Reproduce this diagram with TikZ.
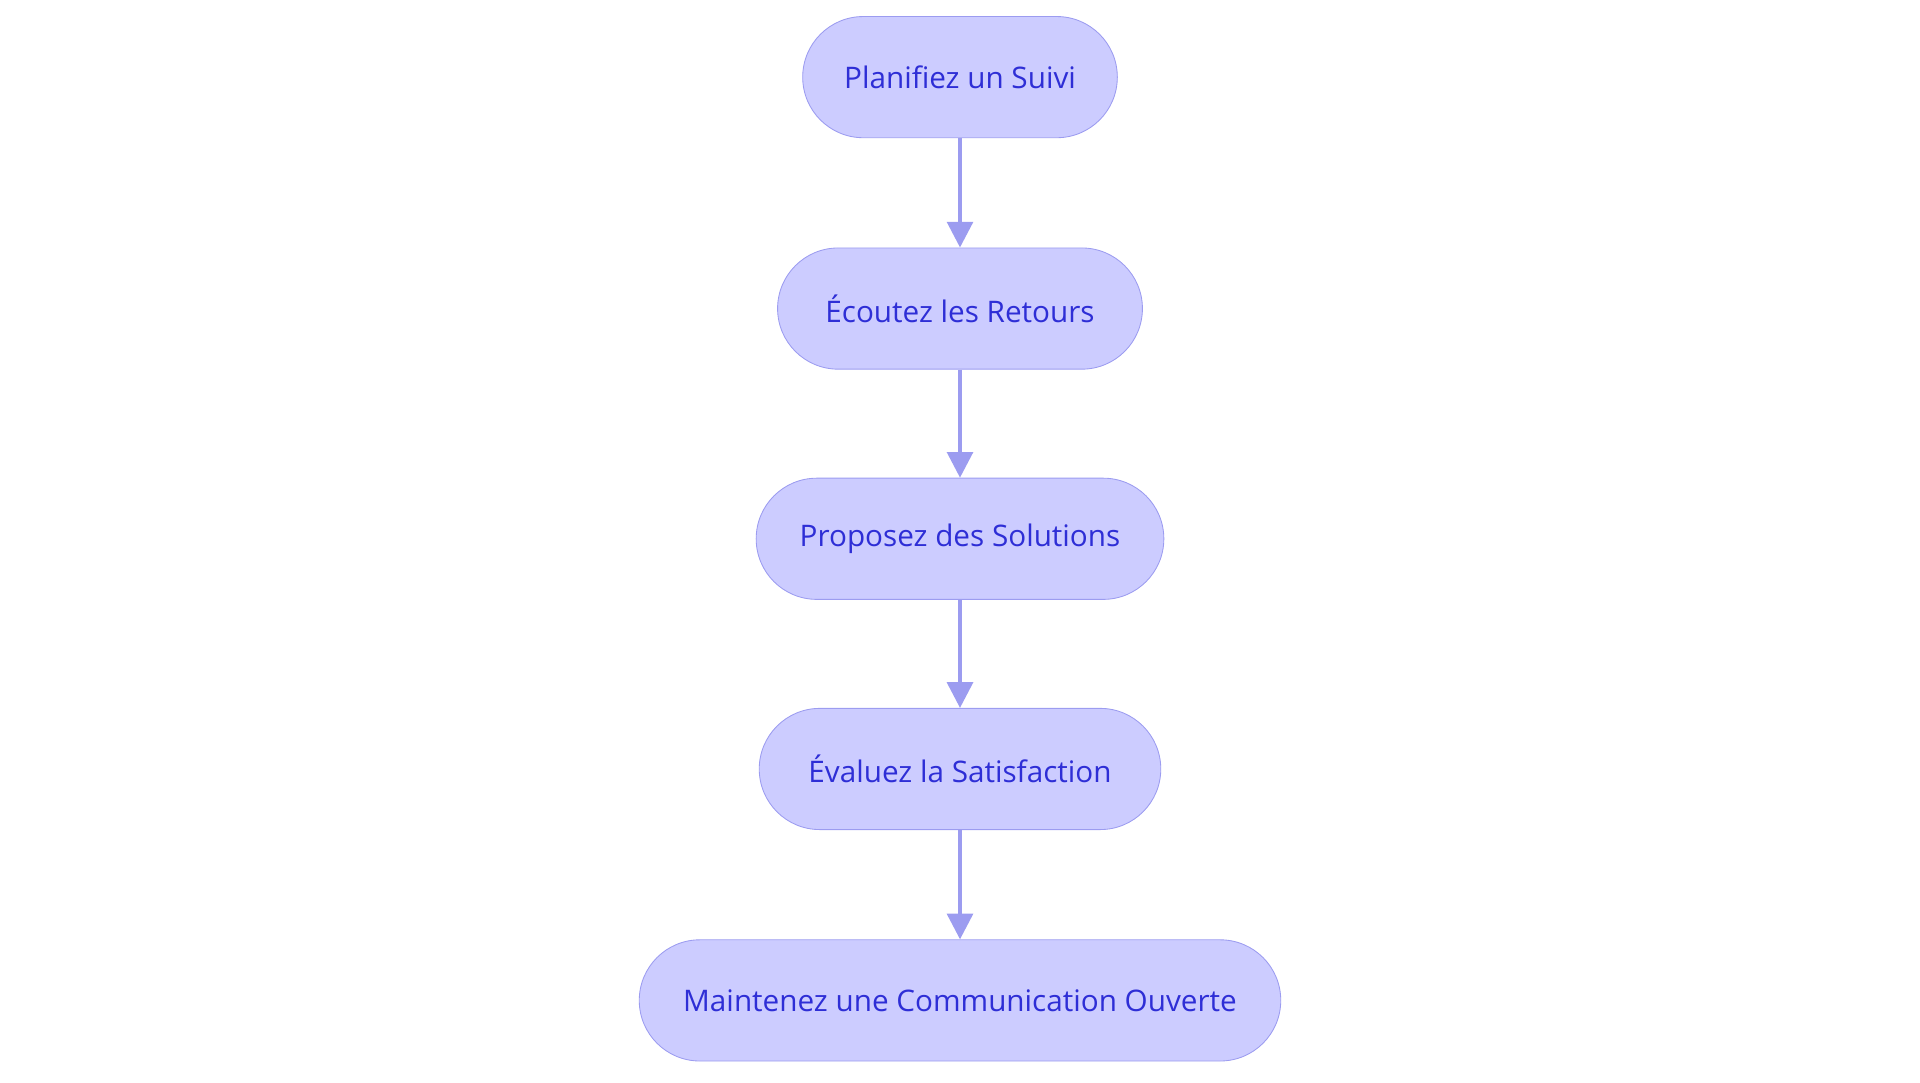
\documentclass[tikz,border=0pt]{standalone}
\usepackage{fontspec}
\setmainfont{Open Sans}
\usetikzlibrary{arrows.meta,positioning}
\definecolor{boxfill}{HTML}{CCCCFF}
\definecolor{boxline}{HTML}{9C9CF0}
\definecolor{boxtext}{HTML}{2E2ED6}
\begin{document}
\begin{tikzpicture}[x=0.02cm,y=-0.02cm]
\useasboundingbox (0,0) rectangle (1568,884);
\begin{scope}[every node/.style={draw=boxline,fill=boxfill,text=boxtext,
      rounded corners=0.99cm,minimum height=1.98cm,inner sep=0pt,font=\fontsize{13.8}{17}\selectfont}]
    \node[minimum width=5.14cm] (plan) at (784,63) {Planifiez un Suivi};
    \node[minimum width=5.96cm] (ecoute) at (784,252) {Écoutez les Retours};
    \node[minimum width=6.66cm] (propose) at (784,440) {Proposez des Solutions};
    \node[minimum width=6.56cm] (evalue) at (784,628) {Évaluez la Satisfaction};
    \node[minimum width=10.48cm] (maintien) at (784,817) {Maintenez une Communication Ouverte};
\end{scope}

\begin{scope}[>={Triangle[length=0.42cm,width=0.42cm]},
              every edge/.style={draw=boxline,line width=1.8pt}]
    \path [->] (plan) edge (ecoute);
    \path [->] (ecoute) edge (propose);
    \path [->] (propose) edge (evalue);
    \path [->] (evalue) edge (maintien);
\end{scope}
\end{tikzpicture}
\end{document}
